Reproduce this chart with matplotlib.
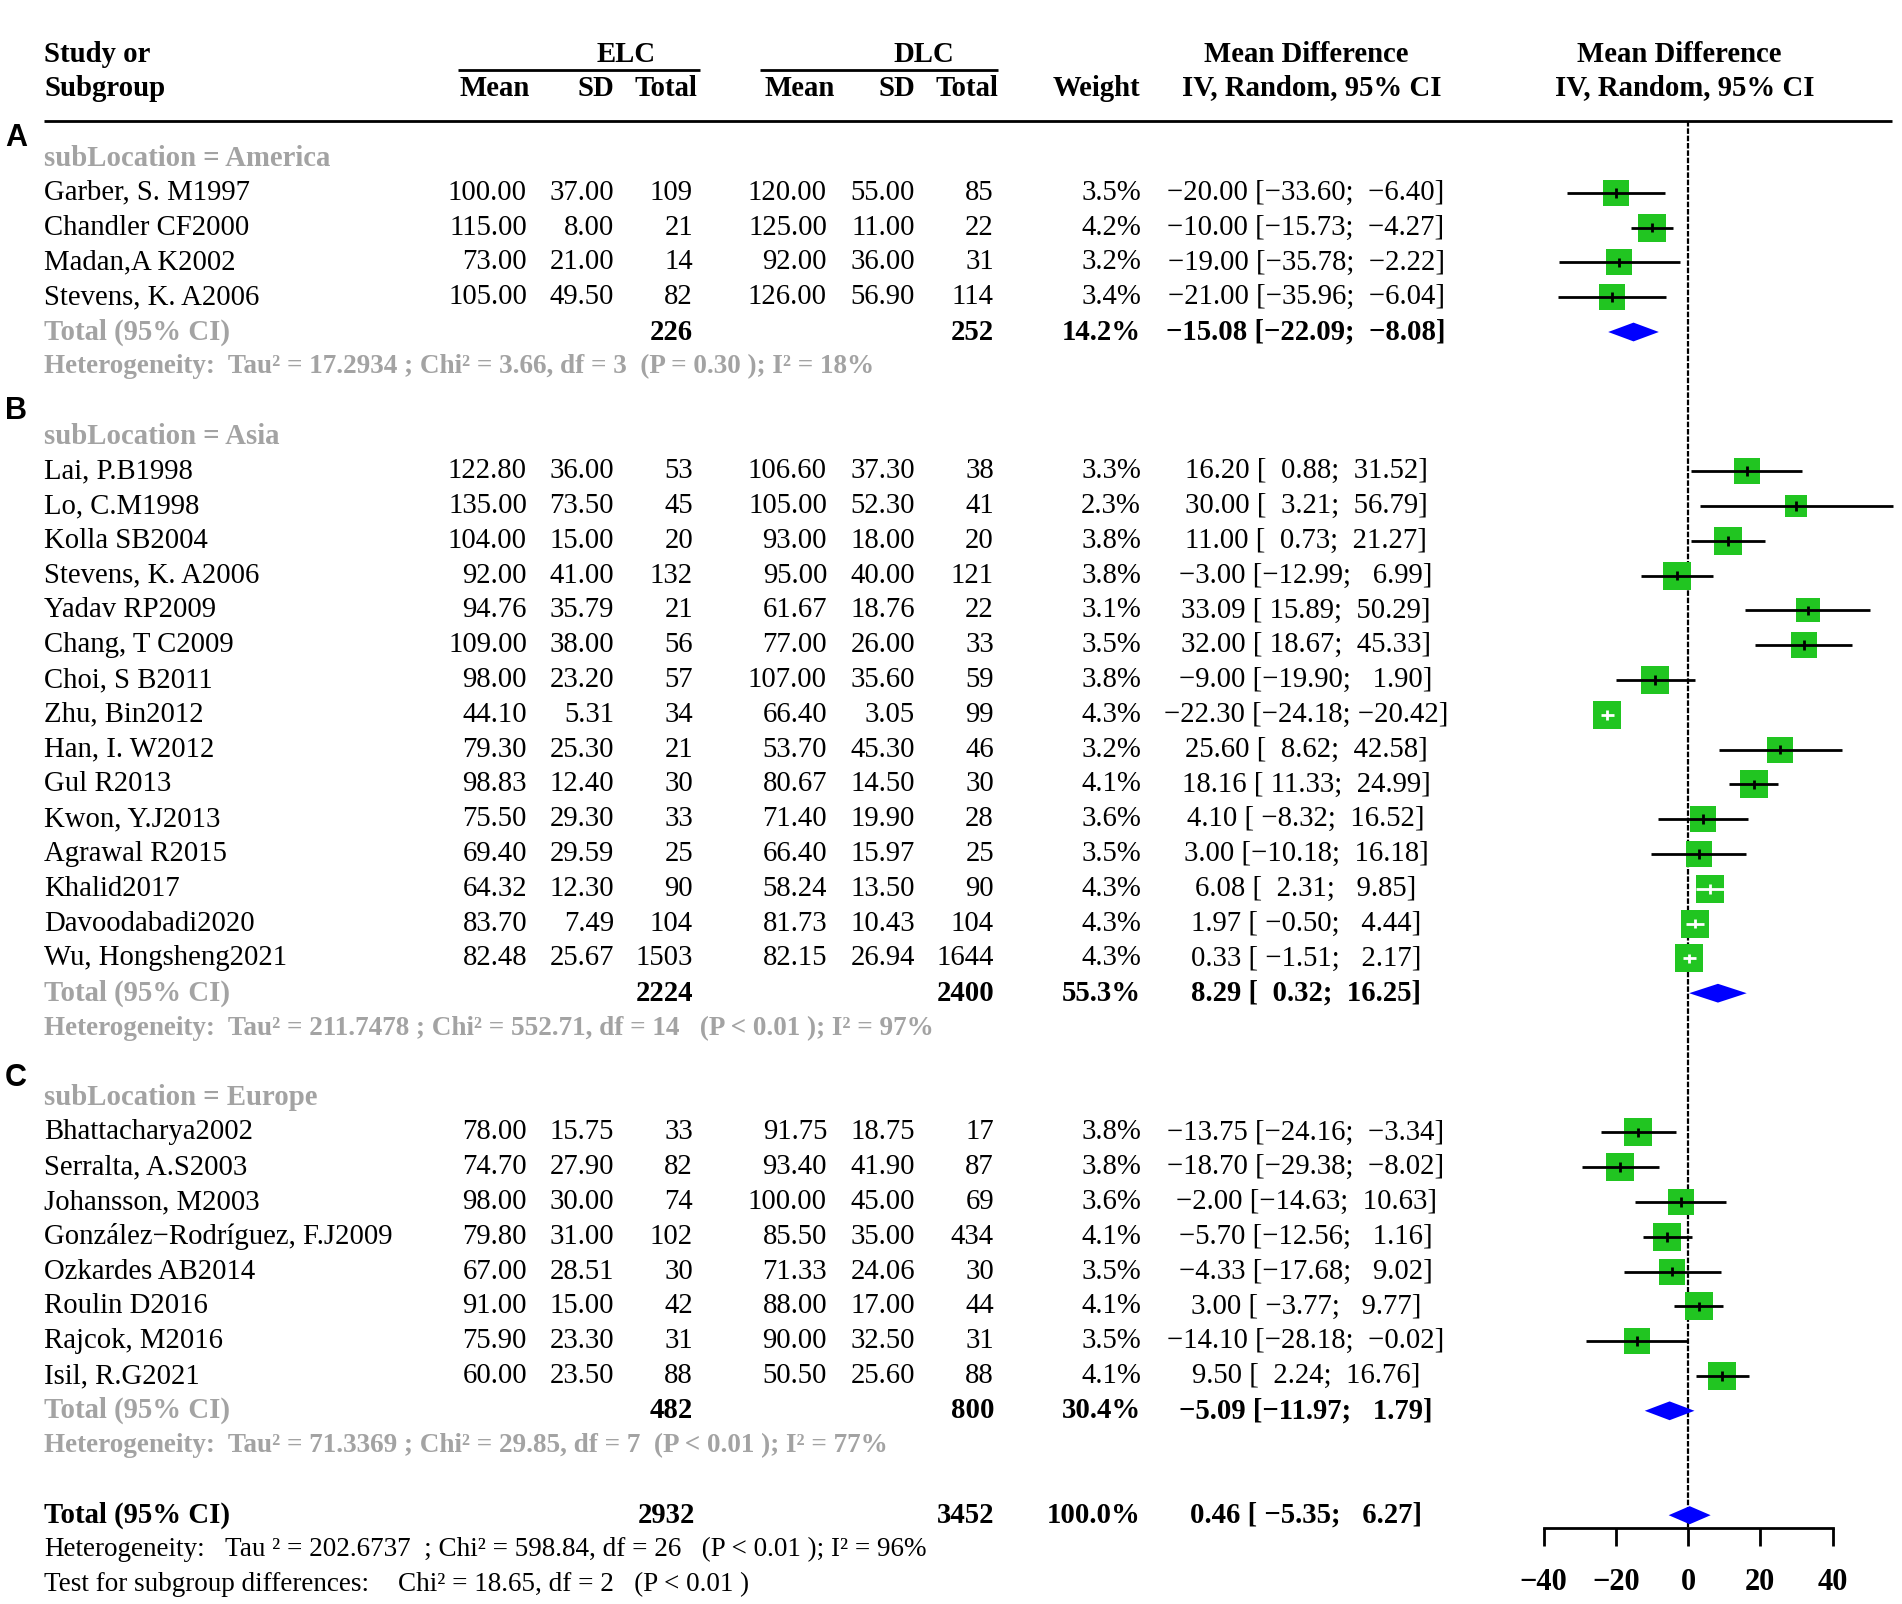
import matplotlib

matplotlib.use("Agg")
import matplotlib.pyplot as plt
import numpy as np

# ---- data --------------------------------------------------------------
groups = ["America", "Asia", "Europe"]
letters = ["A", "B", "C"]

studies = [
    ["Garber, S. M1997", "Chandler CF2000", "Madan,A K2002", "Stevens, K. A2006"],
    ["Lai, P.B1998", "Lo, C.M1998", "Kolla SB2004", "Stevens, K. A2006", "Yadav RP2009",
     "Chang, T C2009", "Choi, S B2011", "Zhu, Bin2012", "Han, I. W2012", "Gul R2013",
     "Kwon, Y.J2013", "Agrawal R2015", "Khalid2017", "Davoodabadi2020", "Wu, Hongsheng2021"],
    ["Bhattacharya2002", "Serralta, A.S2003", "Johansson, M2003",
     "González−Rodríguez, F.J2009", "Ozkardes AB2014", "Roulin D2016", "Rajcok, M2016",
     "Isil, R.G2021"],
]
elc_mean = [
    [100.00, 115.00, 73.00, 105.00],
    [122.80, 135.00, 104.00, 92.00, 94.76, 109.00, 98.00, 44.10, 79.30, 98.83, 75.50,
     69.40, 64.32, 83.70, 82.48],
    [78.00, 74.70, 98.00, 79.80, 67.00, 91.00, 75.90, 60.00],
]
elc_sd = [
    [37.00, 8.00, 21.00, 49.50],
    [36.00, 73.50, 15.00, 41.00, 35.79, 38.00, 23.20, 5.31, 25.30, 12.40, 29.30, 29.59,
     12.30, 7.49, 25.67],
    [15.75, 27.90, 30.00, 31.00, 28.51, 15.00, 23.30, 23.50],
]
elc_n = [
    [109, 21, 14, 82],
    [53, 45, 20, 132, 21, 56, 57, 34, 21, 30, 33, 25, 90, 104, 1503],
    [33, 82, 74, 102, 30, 42, 31, 88],
]
dlc_mean = [
    [120.00, 125.00, 92.00, 126.00],
    [106.60, 105.00, 93.00, 95.00, 61.67, 77.00, 107.00, 66.40, 53.70, 80.67, 71.40,
     66.40, 58.24, 81.73, 82.15],
    [91.75, 93.40, 100.00, 85.50, 71.33, 88.00, 90.00, 50.50],
]
dlc_sd = [
    [55.00, 11.00, 36.00, 56.90],
    [37.30, 52.30, 18.00, 40.00, 18.76, 26.00, 35.60, 3.05, 45.30, 14.50, 19.90, 15.97,
     13.50, 10.43, 26.94],
    [18.75, 41.90, 45.00, 35.00, 24.06, 17.00, 32.50, 25.60],
]
dlc_n = [
    [85, 22, 31, 114],
    [38, 41, 20, 121, 22, 33, 59, 99, 46, 30, 28, 25, 90, 104, 1644],
    [17, 87, 69, 434, 30, 44, 31, 88],
]
weight = [
    [3.5, 4.2, 3.2, 3.4],
    [3.3, 2.3, 3.8, 3.8, 3.1, 3.5, 3.8, 4.3, 3.2, 4.1, 3.6, 3.5, 4.3, 4.3, 4.3],
    [3.8, 3.8, 3.6, 4.1, 3.5, 4.1, 3.5, 4.1],
]
md = [
    [-20.00, -10.00, -19.00, -21.00],
    [16.20, 30.00, 11.00, -3.00, 33.09, 32.00, -9.00, -22.30, 25.60, 18.16, 4.10, 3.00,
     6.08, 1.97, 0.33],
    [-13.75, -18.70, -2.00, -5.70, -4.33, 3.00, -14.10, 9.50],
]
ci_lo = [
    [-33.60, -15.73, -35.78, -35.96],
    [0.88, 3.21, 0.73, -12.99, 15.89, 18.67, -19.90, -24.18, 8.62, 11.33, -8.32, -10.18,
     2.31, -0.50, -1.51],
    [-24.16, -29.38, -14.63, -12.56, -17.68, -3.77, -28.18, 2.24],
]
ci_hi = [
    [-6.40, -4.27, -2.22, -6.04],
    [31.52, 56.79, 21.27, 6.99, 50.29, 45.33, 1.90, -20.42, 42.58, 24.99, 16.52, 16.18,
     9.85, 4.44, 2.17],
    [-3.34, -8.02, 10.63, 1.16, 9.02, 9.77, -0.02, 16.76],
]

grp_n_elc = [226, 2224, 482]
grp_n_dlc = [252, 2400, 800]
grp_weight = [14.2, 55.3, 30.4]
grp_md = [-15.08, 8.29, -5.09]
grp_lo = [-22.09, 0.32, -11.97]
grp_hi = [-8.08, 16.25, 1.79]
grp_het = [
    "Heterogeneity:  Tau² = 17.2934 ; Chi² = 3.66, df = 3  (P = 0.30 ); I² = 18%",
    "Heterogeneity:  Tau² = 211.7478 ; Chi² = 552.71, df = 14   (P < 0.01 ); I² = 97%",
    "Heterogeneity:  Tau² = 71.3369 ; Chi² = 29.85, df = 7  (P < 0.01 ); I² = 77%",
]

all_n_elc, all_n_dlc = 2932, 3452
all_weight = 100.0
all_md, all_lo, all_hi = 0.46, -5.35, 6.27
all_het = "Tau ² = 202.6737  ; Chi² = 598.84, df = 26   (P < 0.01 ); I² = 96%"
sub_test = "Chi² = 18.65, df = 2   (P < 0.01 )"

axis_ticks = [-40, -20, 0, 20, 40]

# ---- layout --------------------------------------------------------------
SERIF = "Liberation Serif"
FS = 20.7
FS_HET = 19.5
GREY = "#a3a3a3"
GREEN = "#21c521"
BLUE = "#0000ff"
PX_PER_UNIT = (1832 - 1543) / 80
ZERO_PX = 1688

# columns (pixel x) for the text table
X_NAME = 44
X_ELC = [527, 614, 693]
X_DLC = [827, 915, 994]
X_W = 1141
X_CI = 1306


def row_of(px):
    return (px - 158) / 34.8


def num(v, d=2):
    return f"{v:.{d}f}".replace("-", "−")


def ci_text(m, lo, hi):
    return f"{num(m)} [{num(lo):>6}; {num(hi):>6}]"


fig = plt.figure(figsize=(19.02, 16.04), dpi=100)
ax_t = fig.add_axes([0, 0, 1, 1])
ax_t.set_xlim(0, 1902)
ax_t.set_ylim(row_of(1604), row_of(0))
ax_t.axis("off")

ax = fig.add_axes([0, 0, 1, 1], facecolor="none")
ax.set_xlim(-ZERO_PX / PX_PER_UNIT, (1902 - ZERO_PX) / PX_PER_UNIT)
ax.set_ylim(row_of(1604), row_of(0))


def put(x, y, s, ha="left", bold=False, color="black", size=FS):
    ax_t.text(x, y, s, ha=ha, va="center", family=SERIF, fontsize=size,
              fontweight="bold" if bold else "normal", color=color)


# header
r1, r2 = row_of(54), row_of(88)
put(X_NAME, r1, "Study or", bold=True)
put(X_NAME, r2, "Subgroup", bold=True)
put(626, r1, "ELC", ha="center", bold=True)
put(924, r1, "DLC", ha="center", bold=True)
for x, lab in zip([530, 614, 697], ["Mean", "SD", "Total"]):
    put(x, r2, lab, ha="right", bold=True)
for x, lab in zip([835, 915, 998], ["Mean", "SD", "Total"]):
    put(x, r2, lab, ha="right", bold=True)
put(1140, r2, "Weight", ha="right", bold=True)
put(1306, r1, "Mean Difference", ha="center", bold=True)
put(1312, r2, "IV, Random, 95% CI", ha="center", bold=True)
put(1679, r1, "Mean Difference", ha="center", bold=True)
put(1685, r2, "IV, Random, 95% CI", ha="center", bold=True)
over_row = row_of(70)
ax_t.hlines([over_row, over_row], [458, 760], [700, 998], colors="black", lw=2)
rule_row = row_of(121)
ax_t.hlines(rule_row, 44, 1892, colors="black", lw=2)

axis_row = row_of(1528)
ax.vlines(0, rule_row, axis_row, colors="black", lw=1.6, linestyles=[(0, (2.5, 0.8))])

group_start = [0, 8, 27]
letter_rows = [row_of(138), row_of(411), row_of(1078)]

for g in range(3):
    r0 = group_start[g]
    ax_t.text(16, letter_rows[g], letters[g], ha="center", va="center",
              family="Liberation Sans", fontsize=22, fontweight="bold")
    put(X_NAME, r0, f"subLocation = {groups[g]}", bold=True, color=GREY)
    for i, name in enumerate(studies[g]):
        r = r0 + 1 + i
        put(X_NAME, r, name)
        for x, v in zip(X_ELC, [num(elc_mean[g][i]), num(elc_sd[g][i]), str(elc_n[g][i])]):
            put(x, r, v, ha="right")
        for x, v in zip(X_DLC, [num(dlc_mean[g][i]), num(dlc_sd[g][i]), str(dlc_n[g][i])]):
            put(x, r, v, ha="right")
        put(X_W, r, f"{weight[g][i]:.1f}%", ha="right")
        put(X_CI, r, ci_text(md[g][i], ci_lo[g][i], ci_hi[g][i]), ha="center")

        # forest marks
        w = weight[g][i]
        side_px = 29 * np.sqrt(w / 4.3)
        hw = side_px / 2 / PX_PER_UNIT
        inside = (md[g][i] - ci_lo[g][i]) <= hw and (ci_hi[g][i] - md[g][i]) <= hw
        ax.scatter([md[g][i]], [r], s=(side_px / 1.389) ** 2, marker="s",
                   color=GREEN, linewidths=0, zorder=3)
        col = "white" if inside else "black"
        ax.hlines(r, ci_lo[g][i], ci_hi[g][i], colors=col, lw=2, zorder=4)
        ax.vlines(md[g][i], r - 0.14, r + 0.14, colors=col, lw=2, zorder=4)

    rt = r0 + 1 + len(studies[g])
    put(X_NAME, rt, "Total (95% CI)", bold=True, color=GREY)
    put(X_ELC[2], rt, str(grp_n_elc[g]), ha="right", bold=True)
    put(X_DLC[2], rt, str(grp_n_dlc[g]), ha="right", bold=True)
    put(X_W, rt, f"{grp_weight[g]:.1f}%", ha="right", bold=True)
    put(X_CI, rt, ci_text(grp_md[g], grp_lo[g], grp_hi[g]), ha="center", bold=True)
    ax.fill([grp_lo[g], grp_md[g], grp_hi[g], grp_md[g]],
            [rt, rt - 0.27, rt, rt + 0.27], color=BLUE, lw=0, zorder=3)
    put(X_NAME, rt + 1, grp_het[g], bold=True, color=GREY, size=FS_HET)

# overall
ro = 39
put(X_NAME, ro, "Total (95% CI)", bold=True)
put(695, ro, str(all_n_elc), ha="right", bold=True)
put(X_DLC[2], ro, str(all_n_dlc), ha="right", bold=True)
put(X_W, ro, f"{all_weight:.1f}%", ha="right", bold=True)
put(X_CI, ro, ci_text(all_md, all_lo, all_hi), ha="center", bold=True)
ax.fill([all_lo, all_md, all_hi, all_md], [ro, ro - 0.26, ro, ro + 0.26],
        color=BLUE, lw=0, zorder=3)
put(X_NAME, ro + 1, "Heterogeneity:", size=FS_HET)
put(225, ro + 1, all_het, size=FS_HET)
put(X_NAME, ro + 2, "Test for subgroup differences:", size=FS_HET)
put(398, ro + 2, sub_test, size=FS_HET)

# x axis of the forest plot
for side in ["left", "right", "top"]:
    ax.spines[side].set_visible(False)
ax.spines["bottom"].set_position(("data", axis_row))
ax.spines["bottom"].set_bounds(axis_ticks[0], axis_ticks[-1])
ax.spines["bottom"].set_linewidth(2)
ax.set_yticks([])
ax.set_xticks(axis_ticks)
ax.set_xticklabels([str(t).replace("-", "−") for t in axis_ticks],
                   family=SERIF, fontsize=22, fontweight="bold")
ax.tick_params(axis="x", direction="out", length=13, width=2, pad=16)

fig.savefig("out.png", dpi=100)
